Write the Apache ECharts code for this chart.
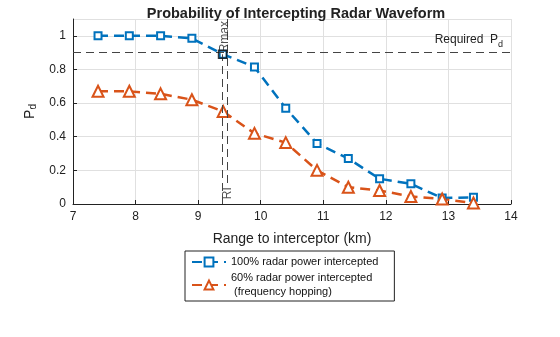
<!DOCTYPE html>
<html><head><meta charset="utf-8">
<script src="https://cdn.jsdelivr.net/npm/echarts@6/dist/echarts.min.js"></script>
<style>html,body{margin:0;padding:0;background:#fff}#c{width:560px;height:337px}</style>
</head><body><div id="c"></div>
<script>
var rangeKm = [7.4, 7.9, 8.4, 8.9, 9.4, 9.9, 10.4, 10.9, 11.4, 11.9, 12.4, 12.9, 13.4];
var pdFull = [1.0, 1.0, 1.0, 0.985, 0.89, 0.815, 0.57, 0.36, 0.27, 0.15, 0.12, 0.035, 0.04];
var pdHop = [0.67, 0.67, 0.655, 0.62, 0.55, 0.42, 0.365, 0.2, 0.1, 0.08, 0.045, 0.03, 0.006];
var requiredPd = 0.9;
var rmaxX = 9.39, rmaxPd = 0.89;
var riX = 9.47, riBottom = 0.1;
var xTicks = [7, 8, 9, 10, 11, 12, 13, 14];
var yTicks = [0, 0.2, 0.4, 0.6, 0.8, 1];
var seriesNames = ['100% radar power intercepted', '60% radar power intercepted\n (frequency hopping)'];

var font = 'Liberation Sans, Arial, sans-serif';
var chart = echarts.init(document.getElementById('c'), null, {renderer: 'canvas'});
function pairs(xs, ys){ return xs.map(function(x,i){return [x, ys[i]];}); }
var dashLine = {type: [8, 5], color: '#444', width: 1};

chart.setOption({
  animation: false,
  textStyle: {fontFamily: font},
  title: {text: 'Probability of Intercepting Radar Waveform', left: 291, textAlign: 'center', top: 1,
    textStyle: {fontSize: 14.5, fontWeight: 'bold', color: '#222', fontFamily: font}},
  grid: {left: 73, right: 49, top: 19, bottom: 133},
  xAxis: {type: 'value', min: xTicks[0], max: xTicks[xTicks.length-1], interval: 1,
    name: 'Range to interceptor (km)', nameLocation: 'middle', nameGap: 28,
    nameTextStyle: {fontSize: 14, color: '#222', fontFamily: font},
    axisLine: {onZero: false, lineStyle: {color: '#222', width: 1}},
    axisTick: {inside: true, length: 4, lineStyle: {color: '#222'}},
    axisLabel: {fontSize: 12, color: '#222', margin: 7, fontFamily: font},
    splitLine: {show: true, lineStyle: {color: '#e0e0e0', width: 1}}},
  yAxis: {type: 'value', min: 0, max: 1.1, interval: 0.2,
    name: '{a|P}{b|d}', nameLocation: 'middle', nameGap: 32, nameRotate: 90,
    nameTextStyle: {rich: {a: {fontSize: 14, color: '#222', fontFamily: font}, b: {fontSize: 10, color: '#222', fontFamily: font, verticalAlign: 'bottom', padding: [6,0,0,0]}}},
    axisLine: {show: true, lineStyle: {color: '#222', width: 1}},
    axisTick: {inside: true, length: 4, lineStyle: {color: '#222'}},
    axisLabel: {fontSize: 12, color: '#222', margin: 7, showMaxLabel: false, fontFamily: font,
      formatter: function(v){ return yTicks.indexOf(Math.round(v*10)/10) >= 0 ? String(Math.round(v*10)/10) : ''; }},
    splitLine: {show: true, lineStyle: {color: '#e0e0e0', width: 1}}},
  legend: {orient: 'vertical', left: 185, top: 251, padding: [4, 16, 2, 6], itemGap: 2,
    itemWidth: 34, itemHeight: 11, borderColor: '#222', borderWidth: 1, borderRadius: 0,
    textStyle: {fontSize: 11, color: '#111', fontFamily: font, lineHeight: 14},
    data: seriesNames},
  series: [
    {name: seriesNames[0], type: 'line', data: pairs(rangeKm, pdFull), z: 3,
      lineStyle: {color: '#0072BD', width: 2.5, type: [10, 6]},
      symbol: 'rect', symbolSize: 7, showAllSymbol: true,
      itemStyle: {color: '#fff', borderColor: '#0072BD', borderWidth: 2},
      markLine: {silent: true, symbol: 'none', animation: false,
        lineStyle: dashLine, label: {show: false},
        data: [
          [{coord: [xTicks[0], requiredPd]}, {coord: [xTicks[xTicks.length-1], requiredPd],
            label: {show: true, position: 'insideEndTop', distance: [8, 4], formatter: '{a|Required  P}{b|d}',
              rich: {a: {fontSize: 12, color: '#222', fontFamily: font}, b: {fontSize: 9, color: '#222', fontFamily: font, padding: [8,0,0,0]}}}}],
          [{coord: [rmaxX, 0]}, {coord: [rmaxX, rmaxPd]}],
          [{coord: [riX, 1.1]}, {coord: [riX, riBottom]}]
        ]}},
    {name: seriesNames[1], type: 'line', data: pairs(rangeKm, pdHop), z: 3,
      lineStyle: {color: '#D95319', width: 2.5, type: [10, 6]},
      symbol: 'triangle', symbolSize: 11, showAllSymbol: true,
      itemStyle: {color: '#fff', borderColor: '#D95319', borderWidth: 2}},
    {name: 'rmax', type: 'scatter', data: [[rmaxX, rmaxPd]], z: 5,
      symbol: 'rect', symbolSize: 8,
      itemStyle: {color: 'rgba(0,0,0,0)', borderColor: '#111', borderWidth: 1.5},
      label: {show: true, formatter: 'Rmax', rotate: 90, position: 'inside', align: 'left', verticalAlign: 'middle',
        fontSize: 12, color: '#222', fontFamily: font, offset: [2, 2]}},
    {name: 'ri', type: 'scatter', data: [[riX, riBottom]], symbolSize: 0,
      label: {show: true, formatter: 'RI', rotate: 90, position: 'bottom', distance: 0, align: 'right', verticalAlign: 'middle',
        fontSize: 12, color: '#222', fontFamily: font, offset: [0, 0]}}
  ]
});
</script></body></html>
